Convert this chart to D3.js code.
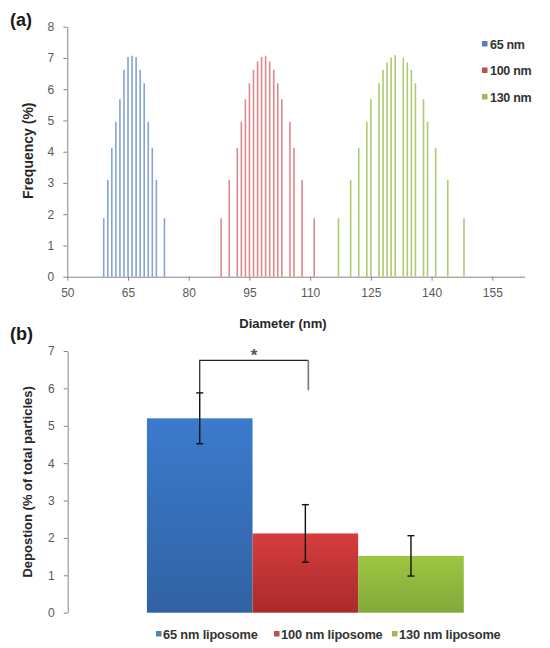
<!DOCTYPE html>
<html>
<head>
<meta charset="utf-8">
<script src="https://cdn.jsdelivr.net/npm/d3@7"></script>
<style>
  body { margin: 0; background: #fff; }
  svg { display: block; font-family: "Liberation Sans", Arial, sans-serif; }
</style>
</head>
<body>
<svg id="chart" width="550" height="648"></svg>
<script>
// ---------- Panel (a) data ----------
const seriesA = ["65 nm", "100 nm", "130 nm"];
const blueDiam = [59,60,61,62,63,64,65,66,67,68,69,70,71,72,74];
const blueFreq = [1.87,3.1,4.12,4.96,5.68,6.62,7.03,7.07,7.03,6.62,6.19,4.96,4.12,3.1,1.87];
const redDiam = [88,90,92,93,94,95,96,97,98,99,100,101,102,103,105,106,108,111];
const redFreq = [1.87,3.1,4.12,4.96,5.68,6.19,6.62,6.89,7.03,7.07,6.89,6.62,6.19,5.68,4.96,4.12,3.1,1.87];
const greenDiam = [117,120,122,124,125,127,128,129,130,131,133,134,135,136,138,139,141,144,148];
const greenFreq = [1.87,3.1,4.12,4.96,5.68,6.19,6.62,6.85,7.01,7.09,7.01,6.85,6.62,6.19,5.68,4.96,4.12,3.1,1.87];
const xTicksA = [50,65,80,95,110,125,140,155];
const yTicksA = [0,1,2,3,4,5,6,7,8];

// ---------- Panel (b) data ----------
const seriesB = ["65 nm liposome", "100 nm liposome", "130 nm liposome"];
const deposition = [5.2, 2.12, 1.52];
const depositionErr = [0.68, 0.77, 0.54];
const yTicksB = [0,1,2,3,4,5,6,7];

const lineColors = ["#86a3d4", "#e0898c", "#aecb72"];
const legendColors = ["#4f81bd", "#c0504d", "#9bbb59"];
const gradTop = ["#3b7bcd", "#d63d3d", "#9dc641"];
const gradBottom = ["#3162a3", "#a92b2b", "#83a83a"];

const svg = d3.select("#chart");
const axisColor = "#868686";
const tickTextColor = "#595959";

function styleAxis(g) {
  g.selectAll(".domain").attr("stroke", axisColor).attr("stroke-width", 1);
  g.selectAll(".tick line").attr("stroke", axisColor);
  g.selectAll(".tick text").attr("fill", tickTextColor)
    .style("font-size", "12px").style("font-family", "Liberation Sans, Arial, sans-serif");
}

// ================= Panel (a) =================
const xA = d3.scaleLinear().domain([50, 163]).range([67.3, 524.7]);
const yA = d3.scaleLinear().domain([0, 8]).range([276.7, 26.7]);

const gxA = svg.append("g").attr("transform", `translate(0,${yA(0)})`)
  .call(d3.axisBottom(xA).tickValues(xTicksA).tickSize(4).tickSizeOuter(0).tickPadding(8).tickFormat(d3.format("d")));
styleAxis(gxA);
const gyA = svg.append("g").attr("transform", `translate(${xA(50)},0)`)
  .call(d3.axisLeft(yA).tickValues(yTicksA).tickSize(4).tickSizeOuter(0).tickPadding(9).tickFormat(d3.format("d")));
styleAxis(gyA);

const setsA = [
  {diam: blueDiam, freq: blueFreq},
  {diam: redDiam, freq: redFreq},
  {diam: greenDiam, freq: greenFreq}
];
setsA.forEach((s, i) => {
  svg.append("g").selectAll("rect")
    .data(s.diam.map((d, j) => ({d, f: s.freq[j]})))
    .join("rect")
    .attr("x", p => xA(p.d) - 0.8)
    .attr("width", 1.6)
    .attr("y", p => yA(p.f))
    .attr("height", p => yA(0) - yA(p.f))
    .attr("fill", lineColors[i]);
});

// axis titles (a)
svg.append("text").attr("x", 283).attr("y", 328).attr("text-anchor", "middle")
  .style("font-size", "13px").style("font-weight", "bold").attr("fill", "#262626")
  .text("Diameter (nm)");
svg.append("text").attr("transform", `translate(33,${(yA(0)+yA(8))/2 - 1}) rotate(-90)`)
  .attr("text-anchor", "middle")
  .style("font-size", "14px").style("font-weight", "bold").attr("fill", "#262626")
  .text("Frequency (%)");
svg.append("text").attr("x", 10).attr("y", 26)
  .style("font-size", "18px").style("font-weight", "bold").attr("fill", "#1a1a1a").text("(a)");

// legend (a)
const legA = svg.append("g").selectAll("g").data(seriesA).join("g")
  .attr("transform", (d, i) => `translate(482, ${44 + i * 26.5})`);
legA.append("rect").attr("x", 0).attr("y", -3).attr("width", 5.5).attr("height", 5.5)
  .attr("fill", (d, i) => legendColors[i]);
legA.append("text").attr("x", 8).attr("y", 4.5)
  .style("font-size", "12.5px").style("font-weight", "bold").attr("fill", "#333")
  .style("letter-spacing", "-0.3px")
  .text(d => d);

// ================= Panel (b) =================
const yB = d3.scaleLinear().domain([0, 7]).range([612.7, 351]);
const groupScale = d3.scaleBand().domain(["deposition"]).range([67.7, 543]).paddingOuter(0.25).paddingInner(0);
const xB = d3.scaleBand().domain(seriesB).range([groupScale("deposition"), groupScale("deposition") + groupScale.bandwidth()]).padding(0);

const defs = svg.append("defs");
seriesB.forEach((s, i) => {
  const lg = defs.append("linearGradient").attr("id", "grad" + i)
    .attr("x1", 0).attr("y1", 0).attr("x2", 0).attr("y2", 1);
  lg.append("stop").attr("offset", "0%").attr("stop-color", gradTop[i]);
  lg.append("stop").attr("offset", "100%").attr("stop-color", gradBottom[i]);
});

const gyB = svg.append("g").attr("transform", `translate(67.7,0)`)
  .call(d3.axisLeft(yB).tickValues(yTicksB).tickSize(4).tickSizeOuter(0).tickPadding(9).tickFormat(d3.format("d")));
styleAxis(gyB);

svg.append("g").selectAll("rect").data(seriesB).join("rect")
  .attr("x", d => xB(d))
  .attr("width", xB.bandwidth())
  .attr("y", (d, i) => yB(deposition[i]))
  .attr("height", (d, i) => yB(0) - yB(deposition[i]))
  .attr("fill", (d, i) => `url(#grad${i})`);

// error bars
const eb = svg.append("g").attr("stroke", "#111").attr("stroke-width", 1.4);
seriesB.forEach((s, i) => {
  const cx = xB(s) + xB.bandwidth() / 2;
  const hi = yB(deposition[i] + depositionErr[i]);
  const lo = yB(deposition[i] - depositionErr[i]);
  eb.append("line").attr("x1", cx).attr("x2", cx).attr("y1", hi).attr("y2", lo);
  eb.append("line").attr("x1", cx - 3.5).attr("x2", cx + 3.5).attr("y1", hi).attr("y2", hi);
  eb.append("line").attr("x1", cx - 3.5).attr("x2", cx + 3.5).attr("y1", lo).attr("y2", lo);
});

// significance bracket
const c0 = xB(seriesB[0]) + xB.bandwidth() / 2;
const c1 = xB(seriesB[1]) + xB.bandwidth() / 2 + 3;
const bracketTop = yB(6.75);
svg.append("path")
  .attr("d", `M${c0},${yB(deposition[0] + depositionErr[0])} V${bracketTop} H${c1}`)
  .attr("fill", "none").attr("stroke", "#222").attr("stroke-width", 1.2);
svg.append("line").attr("x1", c1).attr("x2", c1).attr("y1", bracketTop).attr("y2", yB(5.95))
  .attr("stroke", "#777").attr("stroke-width", 1.6);
svg.append("text").attr("x", (c0 + c1) / 2).attr("y", yB(6.75) + 1).attr("text-anchor", "middle")
  .style("font-size", "17px").style("font-weight", "bold").attr("fill", "#555").text("*");

// axis titles (b)
svg.append("text").attr("transform", `translate(32,${(yB(0)+yB(7))/2}) rotate(-90)`)
  .attr("text-anchor", "middle")
  .style("font-size", "13px").style("font-weight", "bold").attr("fill", "#262626")
  .text("Depostion (%  of total particles)");
svg.append("text").attr("x", 10).attr("y", 340)
  .style("font-size", "18px").style("font-weight", "bold").attr("fill", "#1a1a1a").text("(b)");

// legend (b)
const legBX = [156, 274, 392];
const legB = svg.append("g").selectAll("g").data(seriesB).join("g")
  .attr("transform", (d, i) => `translate(${legBX[i]}, 634)`);
legB.append("rect").attr("x", 0).attr("y", -3).attr("width", 5.5).attr("height", 5.5)
  .attr("fill", (d, i) => legendColors[i]);
legB.append("text").attr("x", 7).attr("y", 4.5)
  .style("font-size", "12.8px").style("font-weight", "bold").attr("fill", "#333")
  .style("letter-spacing", "-0.15px")
  .text(d => d);
</script>
</body>
</html>
